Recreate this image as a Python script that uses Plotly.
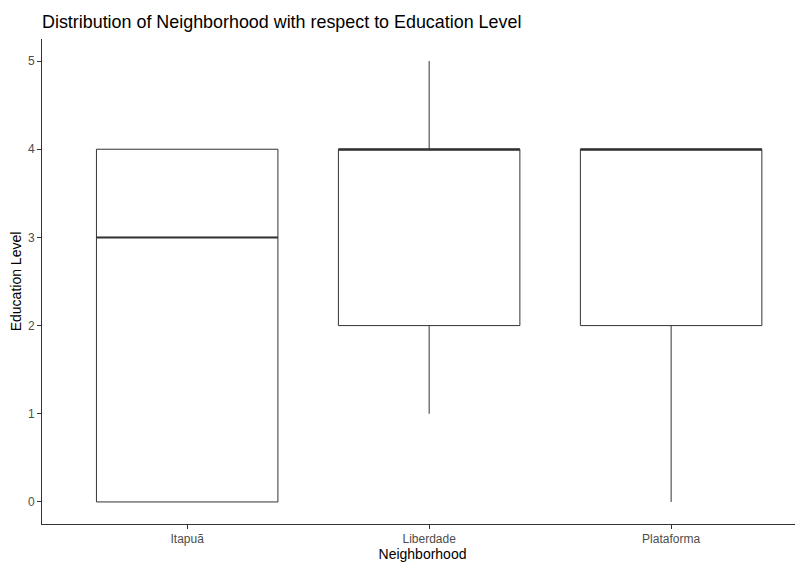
import plotly.graph_objects as go

categories = ["Itapuã", "Liberdade", "Plataforma"]
lower = [0, 1, 0]
q1 = [0, 2, 2]
median = [3, 4, 4]
q3 = [4, 4, 4]
upper = [4, 5, 4]
y_ticks = [0, 1, 2, 3, 4, 5]

box_w = 0.75
line_col = "#333333"

# page body has an 8px default margin, so the figure is sized to fit inside
W, H = 795, 554

fig = go.Figure()
for i, c in enumerate(categories):
    fig.add_trace(go.Box(
        x=[i], q1=[q1[i]], median=[median[i]], q3=[q3[i]],
        lowerfence=[lower[i]], upperfence=[upper[i]],
        width=box_w, fillcolor="white",
        line=dict(color=line_col, width=1),
        whiskerwidth=0, showlegend=False, hoverinfo="skip", name=c,
    ))
    fig.add_trace(go.Scatter(
        x=[i - box_w / 2, i + box_w / 2], y=[median[i], median[i]],
        mode="lines", line=dict(color=line_col, width=2),
        showlegend=False, hoverinfo="skip",
    ))

fig.update_layout(
    width=W, height=H,
    margin=dict(l=34, r=0, t=31, b=38),
    paper_bgcolor="white", plot_bgcolor="white",
    font=dict(family="Liberation Sans, Arial, sans-serif", color="black"),
    title=dict(text="Distribution of Neighborhood with respect to Education Level",
               x=34 / W, xanchor="left", y=1 - 14 / H, yanchor="middle",
               font=dict(size=17.9, color="black")),
    xaxis=dict(range=[-0.6, 2.545], tickvals=list(range(len(categories))),
               ticktext=categories, showgrid=False, zeroline=False,
               showline=True, linecolor=line_col, linewidth=1,
               ticks="outside", ticklen=4, tickcolor=line_col,
               tickfont=dict(size=12, color="#4D4D4D"), automargin=False,
               title=dict(text="Neighborhood", font=dict(size=14, color="black"), standoff=2)),
    yaxis=dict(range=[-0.25, 5.25], tickvals=y_ticks, showgrid=False, zeroline=False,
               showline=True, linecolor=line_col, linewidth=1,
               ticks="outside", ticklen=4, tickcolor=line_col,
               tickfont=dict(size=12, color="#4D4D4D"), automargin=False,
               title=dict(text="Education Level", font=dict(size=14, color="black"), standoff=8)),
)

fig.write_html("out.html")
